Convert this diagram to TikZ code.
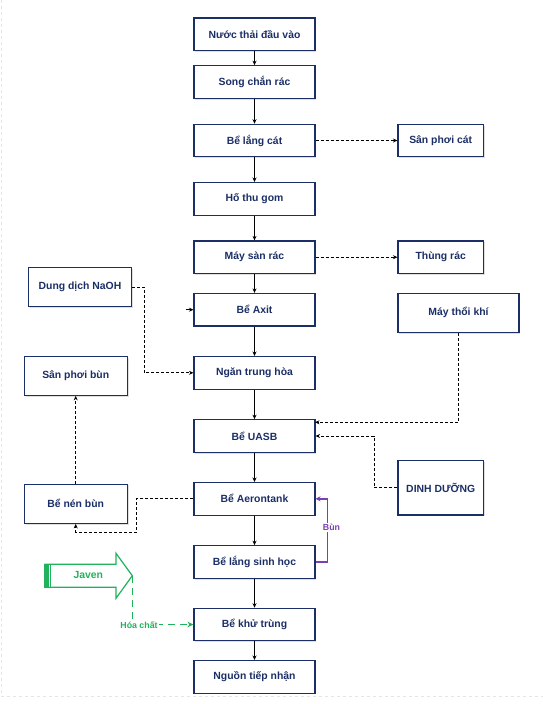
\documentclass[tikz,border=0pt]{standalone}
\usepackage{fontspec}
\setmainfont{Liberation Sans}
\usetikzlibrary{arrows.meta,shadows}
\definecolor{navy}{HTML}{1B2F66}
\definecolor{chemgreen}{HTML}{21B35B}
\definecolor{sludgepurple}{HTML}{7B3FB5}
\begin{document}
\begin{tikzpicture}[x=1pt,y=-1pt,
    every node/.style={font=\bfseries\fontsize{10.4}{12}\selectfont, text=navy},
    box/.style={draw=navy, line width=1.1pt, fill=white, inner sep=0pt,
        minimum width=121pt, minimum height=32.5pt,
        drop shadow={shadow xshift=1.3pt, shadow yshift=-1.3pt, opacity=.25, fill=gray}},
    sidebox/.style={box, minimum width=103pt, minimum height=38.6pt},
    small/.style={fill=white, inner sep=1pt, font=\bfseries\fontsize{8.8}{10}\selectfont},
    flow/.style={-{Stealth[length=4.5pt,width=4pt]}, line width=.9pt, black},
    dashline/.style={flow, dash pattern=on 3pt off 2pt},
    sludge/.style={-{Stealth[length=5pt,width=5pt]}, line width=1.4pt, sludgepurple},
    chem/.style={-{Stealth[length=6pt,width=5.5pt]}, line width=1.4pt, chemgreen, dash pattern=on 7pt off 5pt}]
    % constants
    \def\mainX{254.5}
    \def\sideX{440.7}
    \def\leftX{75.7}
    \useasboundingbox (0,0) rectangle (543,704);
    % page border
    \draw [gray!20, dashed] (1,0) -- (1,695.7) -- (543,695.7);
    % main line nodes
    \node [box] (inlet) at (\mainX, 34.2) {Nước thải đầu vào};
    \node [box] (screen) at (\mainX, 82) {Song chắn rác};
    \node [box] (grit) at (\mainX, 140.5) {Bể lắng cát};
    \node [box] (sump) at (\mainX, 198.8) {Hố thu gom};
    \node [box] (sieve) at (\mainX, 257.2) {Máy sàn rác};
    \node [box] (acid) at (\mainX, 309.7) {Bể Axit};
    \node [box] (neutral) at (\mainX, 372.8) {Ngăn trung hòa};
    \node [box] (uasb) at (\mainX, 436) {Bể UASB};
    \node [box] (aero) at (\mainX, 498.8) {Bể Aerontank};
    \node [box] (settle) at (\mainX, 562) {Bể lắng sinh học};
    \node [box] (disinf) at (\mainX, 624.5) {Bể khử trùng};
    \node [box] (outlet) at (\mainX, 676.8) {Nguồn tiếp nhận};
    % right side nodes
    \node [box, minimum width=85.4pt] (sandbed) at (\sideX, 140.5) {Sân phơi cát};
    \node [box, minimum width=85.4pt] (bin) at (\sideX, 257.2) {Thùng rác};
    \node [box, minimum height=39pt] (blower) at (458.5, 312.8) {Máy thổi khí};
    \node [box, minimum width=85.4pt, minimum height=54.3pt] (nutrient) at (\sideX, 487.8) {DINH DƯỠNG};
    % left side nodes
    \node [sidebox] (naoh) at (80, 287) {Dung dịch NaOH};
    \node [sidebox] (sludgebed) at (\leftX, 376) {Sân phơi bùn};
    \node [sidebox, minimum height=39.3pt] (thicken) at (\leftX, 503.7) {Bể nén bùn};
    % javen arrow
    \draw [chemgreen, line width=1.2pt, fill=white]
        (45,564.3) -- (116,564.3) -- (116,553.3) -- (132.3,575.7)
        -- (116,598.3) -- (116,587.3) -- (45,587.3) -- cycle;
    \fill [chemgreen] (44.4,563.7) rectangle (48.6,587.9);
    \draw [chemgreen, line width=.7pt] (50.4,564.3) -- (50.4,587.3);
    \node [text=chemgreen] (javen) at (88.3,575) {Javen};
    \coordinate (javtip) at (132.3,575.7);
    % main flow
    \draw [flow] (inlet) -- (screen);
    \draw [flow] (screen) -- (grit);
    \draw [flow] (grit) -- (sump);
    \draw [flow] (sump) -- (sieve);
    \draw [flow] (sieve) -- (acid);
    \draw [flow] (acid) -- (neutral);
    \draw [flow] (neutral) -- (uasb);
    \draw [flow] (uasb) -- (aero);
    \draw [flow] (aero) -- (settle);
    \draw [flow] (settle) -- (disinf);
    \draw [flow] (disinf) -- (outlet);
    \coordinate (acidin) at (186,309.7);
    \draw [flow] (acidin) -- (acid.west);
    % side flows
    \draw [dashline] (grit) -- (sandbed);
    \draw [dashline] (sieve) -- (bin);
    \draw [dashline] (naoh.east) -| (144.3,340) |- (neutral.west);
    \coordinate (uasbtop) at (315,422.3);
    \draw [dashline] (blower.south) |- (uasbtop);
    \draw [dashline] (nutrient.west) -| (374,436) -- (uasb.east);
    \draw [dashline] (aero.west) -| (136.7,532) -| (thicken.south);
    \draw [dashline] (thicken) -- (sludgebed);
    % return sludge
    \draw [sludge] (settle.east) -| (327.7,498.8) -- (aero.east);
    \node [small, text=sludgepurple] (bun) at (331.5,527.7) {Bùn};
    % chemical dosing
    \draw [chem] (javtip) |- (disinf.west);
    \node [small, text=chemgreen] (chemical) at (139,625) {Hóa chất};
\end{tikzpicture}
\end{document}
